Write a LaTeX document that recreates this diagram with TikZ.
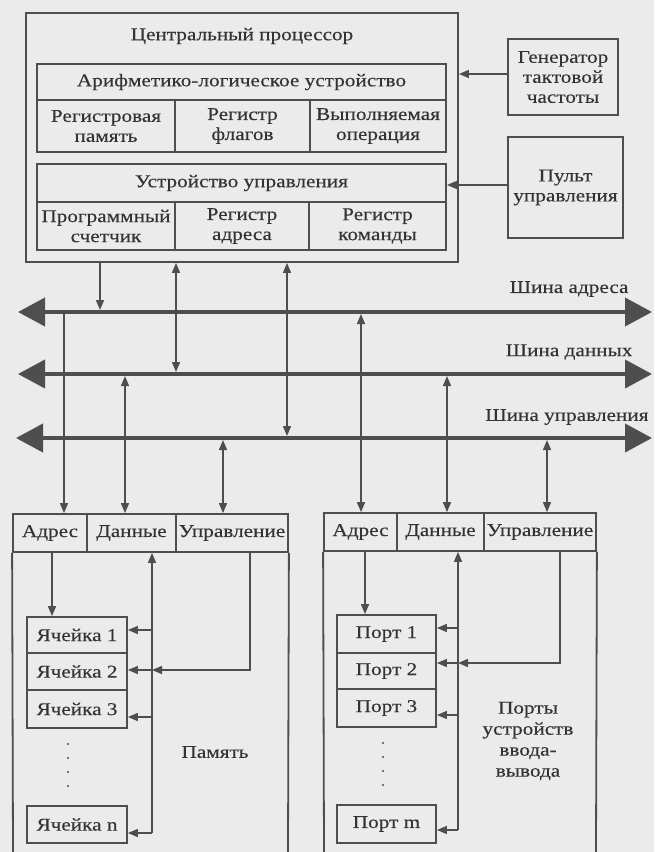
\documentclass[tikz,border=0pt]{standalone}
\usepackage{fontspec}
\setmainfont{Liberation Serif}[FakeStretch=1.18,FakeBold=0.3]
\usetikzlibrary{arrows.meta}
\definecolor{ln}{HTML}{4E4E4E}
\definecolor{tx}{HTML}{333333}
\definecolor{bg}{HTML}{EBEBEB}
% rectangle given by its corners: name, x1, y1, x2, y2, text
\newcommand\cellbox[6]{\node[frame, minimum width={(#4)-(#2)}, minimum height={(#5)-(#3)}] (#1) at ({((#2)+(#4))/2},{((#3)+(#5))/2}) {#6};}
\begin{document}
\begin{tikzpicture}[x=1pt,y=-1pt,
  every node/.style={font=\fontsize{18}{20}\selectfont, text=tx},
  frame/.style={draw=ln, line width=1.8pt, rectangle, inner sep=0pt, align=center},
  wire/.style={draw=ln, line width=1.4pt},
  tip/.style={-{Triangle[length=10pt,width=8pt]}},
  tips/.style={{Triangle[length=10pt,width=8pt]}-{Triangle[length=10pt,width=8pt]}},
  bus/.style={draw=ln, line width=4pt, {Triangle[length=27pt,width=28pt]}-{Triangle[length=27pt,width=28pt]}},
  side/.style={draw=ln, line width=1.8pt}]
\fill[bg] (0,0) rectangle (654,852);
\useasboundingbox (0,0) rectangle (654,852);

% central processor
\cellbox{cpu}{26}{13}{458}{262}{}
\node (cputitle) at (242,36) {Центральный процессор};
\cellbox{alu}{37}{64}{446}{100}{Арифметико-логическое устройство}
\cellbox{regmem}{37}{100}{175}{152}{Регистровая\\память}
\cellbox{regflag}{175}{100}{310}{152}{Регистр\\флагов}
\cellbox{curop}{310}{100}{446}{152}{Выполняемая\\операция}
\cellbox{cu}{37}{164}{446}{202}{Устройство управления}
\cellbox{pc}{37}{202}{175}{250}{Программный\\счетчик}
\cellbox{areg}{175}{202}{309}{250}{Регистр\\адреса}
\cellbox{ireg}{309}{202}{446}{250}{Регистр\\команды}

% clock and control panel
\cellbox{clock}{508}{39}{618}{115}{Генератор\\тактовой\\частоты}
\cellbox{panel}{508}{137}{623}{238}{Пульт\\управления}
\coordinate (clkY) at (0,74);
\coordinate (panY) at (0,185);
\draw[wire,tip] (clock.west |- clkY) -- (cpu.east |- clkY);
\draw[wire,tip] (panel.west |- panY) -- (cu.east |- panY);

% system buses
\coordinate (abL) at (18,312); \coordinate (abR) at (652,312);
\coordinate (dbL) at (18,374); \coordinate (dbR) at (652,374);
\coordinate (cbL) at (16,438); \coordinate (cbR) at (652,438);
\draw[bus] (abL) -- (abR);
\draw[bus] (dbL) -- (dbR);
\draw[bus] (cbL) -- (cbR);
\node[anchor=east] (ablbl) at (632,289) {Шина адреса};
\node[anchor=east] (dblbl) at (636,352) {Шина данных};
\node[anchor=east] (cblbl) at (652,417) {Шина управления};

% memory
\cellbox{memA}{13}{514}{87}{552}{Адрес}
\cellbox{memD}{87}{514}{176}{552}{Данные}
\cellbox{memU}{176}{514}{288}{552}{Управление}
\coordinate (memBL) at (13,852); \coordinate (memBR) at (288,852);
\draw[side] (memA.south west) -- (memBL);
\draw[side] (memU.south east) -- (memBR);
\cellbox{c1}{27}{617}{127}{653}{Ячейка 1}
\cellbox{c2}{27}{653}{127}{690}{Ячейка 2}
\cellbox{c3}{27}{690}{127}{728}{Ячейка 3}
\cellbox{cn}{27}{806}{127}{843}{Ячейка n}
\foreach \yy in {744,758,772,786} \fill[ln] (68,\yy) circle (1.2pt);
\node (memlbl) at (215,752) {Память};

% input-output ports
\cellbox{ioA}{324}{513}{397}{551}{Адрес}
\cellbox{ioD}{397}{513}{484}{551}{Данные}
\cellbox{ioU}{484}{513}{596}{551}{Управление}
\coordinate (ioBL) at (324,852); \coordinate (ioBR) at (596,852);
\draw[side] (ioA.south west) -- (ioBL);
\draw[side] (ioU.south east) -- (ioBR);
\cellbox{p1}{337}{615}{436}{653}{Порт 1}
\cellbox{p2}{337}{653}{436}{689}{Порт 2}
\cellbox{p3}{337}{689}{436}{727}{Порт 3}
\cellbox{pm}{337}{805}{436}{843}{Порт m}
\foreach \yy in {743,757,771,785} \fill[ln] (383,\yy) circle (1.2pt);
\node[align=center, font=\fontsize{18}{21}\selectfont] (iolbl) at (528,741) {Порты\\устройств\\ввода-\\вывода};

% processor to buses
\coordinate (cpuA) at (100,0);
\coordinate (cpuD) at (176,0);
\coordinate (cpuC) at (287,0);
\draw[wire,tip,shorten >=2pt] (cpu.south -| cpuA) -- (abL -| cpuA);
\draw[wire,tips,shorten >=2pt] (cpu.south -| cpuD) -- (dbL -| cpuD);
\draw[wire,tips,shorten >=2pt] (cpu.south -| cpuC) -- (cbL -| cpuC);

% buses to memory
\coordinate (memAx) at (64,0);
\coordinate (memDx) at (125,0);
\coordinate (memCx) at (223,0);
\draw[wire,tip] (abL -| memAx) -- (memA.north -| memAx);
\draw[wire,tips,shorten <=2pt] (dbL -| memDx) -- (memD.north -| memDx);
\draw[wire,tips,shorten <=2pt] (cbL -| memCx) -- (memU.north -| memCx);

% buses to ports
\coordinate (ioAx) at (361,0);
\coordinate (ioDx) at (447,0);
\coordinate (ioCx) at (547,0);
\draw[wire,tips,shorten <=2pt] (abL -| ioAx) -- (ioA.north -| ioAx);
\draw[wire,tips,shorten <=2pt] (dbL -| ioDx) -- (ioD.north -| ioDx);
\draw[wire,tips,shorten <=2pt] (cbL -| ioCx) -- (ioU.north -| ioCx);

% inside memory
\coordinate (mAddr) at (52,0);
\draw[wire,tip] (memA.south -| mAddr) -- (c1.north -| mAddr);
\coordinate (m1) at (152,630);
\coordinate (m2) at (152,670);
\coordinate (m3) at (152,717);
\coordinate (mn) at (152,833);
\coordinate (mCtl) at (250,670);
\draw[wire,tip] (mn) -- (memD.south -| mn);
\draw[wire,tip] (m1) -- (c1.east |- m1);
\draw[wire,tip] (m2) -- (c2.east |- m2);
\draw[wire,tip] (m3) -- (c3.east |- m3);
\draw[wire,tip] (mn) -- (cn.east |- mn);
\draw[wire,tip] (memU.south -| mCtl) -- (mCtl) -- (m2);

% inside ports
\coordinate (pAddr) at (365,0);
\draw[wire,tip] (ioA.south -| pAddr) -- (p1.north -| pAddr);
\coordinate (q1) at (458,628);
\coordinate (q2) at (458,663);
\coordinate (q3) at (458,715);
\coordinate (qm) at (458,830);
\coordinate (pCtl) at (560,663);
\draw[wire,tip] (qm) -- (ioD.south -| qm);
\draw[wire,tip] (q1) -- (p1.east |- q1);
\draw[wire,tip] (q2) -- (p2.east |- q2);
\draw[wire,tip] (q3) -- (p3.east |- q3);
\draw[wire,tip] (qm) -- (pm.east |- qm);
\draw[wire,tip] (ioU.south -| pCtl) -- (pCtl) -- (q2);
\end{tikzpicture}
\end{document}
